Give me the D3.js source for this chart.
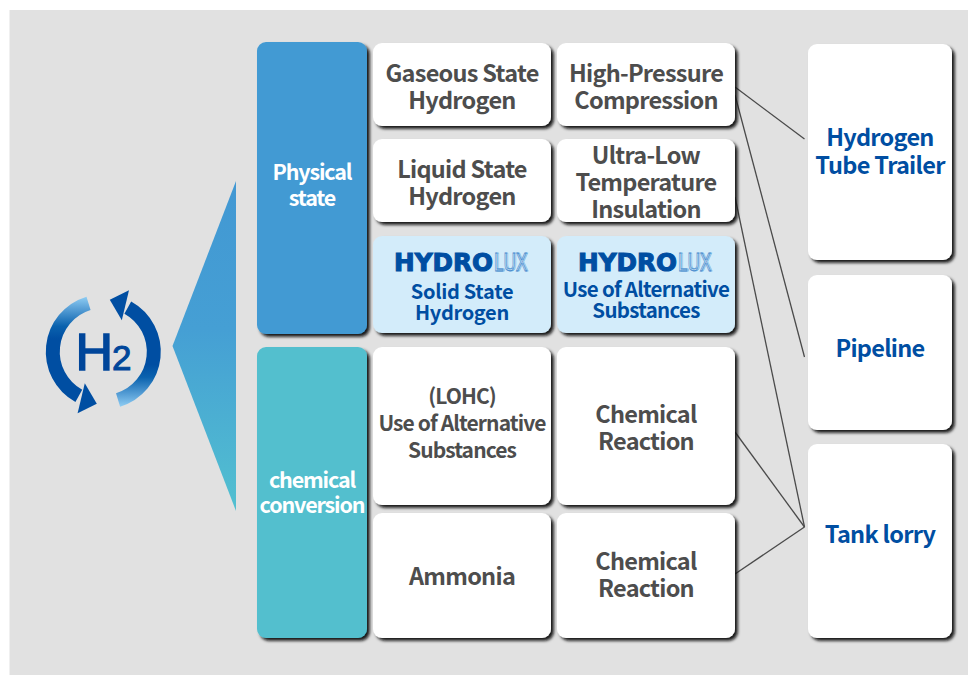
<!DOCTYPE html>
<html lang="en">
  <head>
    <meta charset="utf-8" />
    <script src="https://d3js.org/d3.v7.min.js"></script>
    <style type="text/css">
      html, body { margin: 0; padding: 0; background: #fff; }
      svg { display: block; }
      text { font-family: "Noto Sans CJK KR", "Noto Sans", sans-serif; text-anchor: middle; }
    </style>
  </head>

  <body>
    <svg id="chart" width="968" height="675"></svg>

    <script>
      // diagram content
      let rows = ["gas", "liquid", "solid", "lohc", "ammonia"];
      let groups = ["Physical state", "chemical conversion"];
      let groupLabels = [["Physical", "state"], ["chemical", "conversion"]];
      let stateLabels = [
        ["Gaseous State", "Hydrogen"],
        ["Liquid State", "Hydrogen"],
        ["Solid State", "Hydrogen"],
        ["(LOHC)", "Use of Alternative", "Substances"],
        ["Ammonia"],
      ];
      let methodLabels = [
        ["High-Pressure", "Compression"],
        ["Ultra-Low", "Temperature", "Insulation"],
        ["Use of Alternative", "Substances"],
        ["Chemical", "Reaction"],
        ["Chemical", "Reaction"],
      ];
      let transports = ["tube", "pipeline", "tank"];
      let transportLabels = [["Hydrogen", "Tube Trailer"], ["Pipeline"], ["Tank lorry"]];
      let logoRow = "solid";
      let linkSources = ["gas", "gas", "liquid", "lohc", "ammonia"];
      let linkTargets = ["tube", "pipeline", "tank", "tank", "tank"];

      // layout scales
      let rowTop = d3.scaleOrdinal(rows, [43, 139, 236, 347, 513]);
      let rowBottom = d3.scaleOrdinal(rows, [126, 222, 333, 505, 638]);
      let stateTextY = d3.scaleOrdinal(rows, [87, 183, 302.5, 423, 576.5]);
      let methodTextY = d3.scaleOrdinal(rows, [87, 182.5, 300, 428, 575]);
      let groupTop = d3.scaleOrdinal(groups, [42, 347]);
      let groupBottom = d3.scaleOrdinal(groups, [334, 638]);
      let transportTop = d3.scaleOrdinal(transports, [44, 275, 444]);
      let transportBottom = d3.scaleOrdinal(transports, [260, 430, 638]);
      let transportTextY = d3.scaleOrdinal(transports, [152, 349, 535]);
      let linkKeys = ["gas-tube", "gas-pipeline", "liquid-tank", "lohc-tank", "ammonia-tank"];
      let linkStart = d3.scaleOrdinal(linkKeys, [87, 95, 197, 432, 574]);
      let linkEnd = d3.scaleOrdinal(linkKeys, [139, 357, 527, 527, 527]);

      let svg = d3.select("#chart");
      let defs = svg.append("defs");

      let shadow = defs.append("filter").attr("id", "shadow")
        .attr("x", "-10%").attr("y", "-10%").attr("width", "125%").attr("height", "125%");
      shadow.append("feDropShadow")
        .attr("dx", 2.8).attr("dy", 2.8).attr("stdDeviation", 1.5)
        .attr("flood-color", "#111").attr("flood-opacity", 0.95);

      function gradient(id, stops) {
        let g = defs.append("linearGradient").attr("id", id)
          .attr("x1", 0).attr("y1", 0).attr("x2", 0).attr("y2", 1);
        stops.forEach(function (s) {
          g.append("stop").attr("offset", s[0]).attr("stop-color", s[1]);
        });
      }
      gradient("tri", [[0, "#4298d3"], [0.45, "#459fd4"], [1, "#52c0d0"]]);
      gradient("spin", [[0, "#8fcdf3"], [0.1, "#5fa5da"], [0.28, "#0a62ae"], [0.4, "#004ea2"], [1, "#004ea2"]]);

      // background
      svg.append("rect").attr("x", 9.5).attr("y", 10).attr("width", 958.5).attr("height", 665).attr("fill", "#e1e1e1");

      // connectors go under the boxes
      let colRight = 735;
      linkSources.forEach(function (s, i) {
        let key = s + "-" + linkTargets[i];
        svg.append("line")
          .attr("x1", colRight).attr("y1", linkStart(key))
          .attr("x2", 804.5).attr("y2", linkEnd(key))
          .attr("stroke", "#4a4a4a").attr("stroke-width", 1.3);
      });

      function box(x, y0, y1, w, fill, r) {
        svg.append("rect")
          .attr("x", x).attr("y", y0).attr("width", w).attr("height", y1 - y0)
          .attr("rx", r).attr("ry", r).attr("fill", fill)
          .attr("filter", "url(#shadow)");
      }

      function label(lines, cx, cy, size, lineH, color, spacing) {
        lines.forEach(function (t, i) {
          svg.append("text")
            .attr("x", cx)
            .attr("y", cy + (i - (lines.length - 1) / 2) * lineH + size * 0.36)
            .attr("font-size", size)
            .attr("font-weight", 700)
            .attr("letter-spacing", spacing)
            .attr("fill", color)
            .text(t);
        });
      }

      // group column
      let groupFill = ["#439ad3", "#53bfce"];
      let groupTextY = [185.5, 493];
      groups.forEach(function (g, i) {
        box(257, groupTop(g), groupBottom(g), 110, groupFill[i], 9);
        label(groupLabels[i], 312, groupTextY[i], 21.5, 25.5, "#fff", -1.15);
      });

      function logo(cx, y) {
        let left = cx - 68;
        svg.append("text")
          .attr("x", left).attr("y", y)
          .attr("font-weight", 700)
          .attr("font-size", 25).attr("fill", "#004ea2")
          .attr("textLength", 99).attr("lengthAdjust", "spacingAndGlyphs")
          .style("text-anchor", "start").style("font-family", "DejaVu Sans")
          .attr("stroke", "#004ea2").attr("stroke-width", 1.1)
          .text("HYDRO");
        // LUX is drawn twice to give the double outline of the logo
        [[0, 0.8], [1.4, 0.5]].forEach(function (o) {
          svg.append("text")
            .attr("x", left + 100 + o[0]).attr("y", y)
            .attr("font-size", 25.5).attr("fill", "none")
            .style("font-family", "Liberation Sans").style("text-anchor", "start")
            .attr("textLength", 33).attr("lengthAdjust", "spacingAndGlyphs")
            .attr("stroke", "#3f87cc").attr("stroke-width", o[1])
            .text("LUX");
        });
      }

      // state and method columns
      let stateX = 373, methodX = 557, cellW = 178;
      rows.forEach(function (r, i) {
        let top = rowTop(r), bottom = rowBottom(r);
        let isLogo = r === logoRow;
        let fill = isLogo ? "#d3ecfa" : "#fff";
        box(stateX, top, bottom, cellW, fill, 9);
        box(methodX, top, bottom, cellW, fill, 9);
        let stateCx = stateX + cellW / 2, methodCx = methodX + cellW / 2;
        if (isLogo) {
          logo(stateCx, 271);
          logo(methodCx, 271);
          label(stateLabels[i], stateCx, stateTextY(r), 20, 21.5, "#004ea2", -0.3);
          label(methodLabels[i], methodCx, methodTextY(r), 20.5, 21.5, "#004ea2", -0.7);
        } else {
          let small = r === "lohc";
          label(stateLabels[i], stateCx, stateTextY(r), small ? 21 : 23.5, 27, "#4d4d4d", small ? -0.9 : -0.72);
          label(methodLabels[i], methodCx, methodTextY(r), 23.5, 27, "#4d4d4d", -0.75);
        }
      });

      // transport column
      transports.forEach(function (t, i) {
        box(808, transportTop(t), transportBottom(t), 144, "#fff", 9);
        label(transportLabels[i], 880, transportTextY(t), 23.5, 28, "#004ea2", -0.72);
      });

      // big triangle
      svg.append("path")
        .attr("d", d3.line()([[236, 181], [236, 511], [172.5, 346]]) + "Z")
        .attr("fill", "url(#tri)");

      // H2 icon, second half is the first rotated 180deg
      let icon = svg.append("g").attr("transform", "translate(103.3,351.7)");
      let rad = Math.PI / 180;
      let arc = d3.arc().innerRadius(43.5).outerRadius(57.5)
        .startAngle(-17 * rad).endAngle(-151 * rad);
      [0, 180].forEach(function (a) {
        let g = icon.append("g").attr("transform", "rotate(" + a + ")");
        g.append("path").attr("d", arc()).attr("fill", "url(#spin)");
        g.append("path")
          .attr("d", d3.line()([[-18.5, 31.5], [-25.7, 61.5], [-6.5, 52]]) + "Z")
          .attr("fill", "#004ea2");
      });
      icon.append("text").attr("x", -9).attr("y", 18.5)
        .style("font-family", "Liberation Sans")
        .attr("font-size", 52).attr("fill", "#00469a")
        .attr("stroke", "#00469a").attr("stroke-width", 1.6).text("H");
      icon.append("text").attr("x", 18.5).attr("y", 18.5)
        .style("font-family", "Liberation Sans")
        .attr("font-size", 35).attr("fill", "#00469a")
        .attr("stroke", "#00469a").attr("stroke-width", 1).text("2");
    </script>
  </body>
</html>
